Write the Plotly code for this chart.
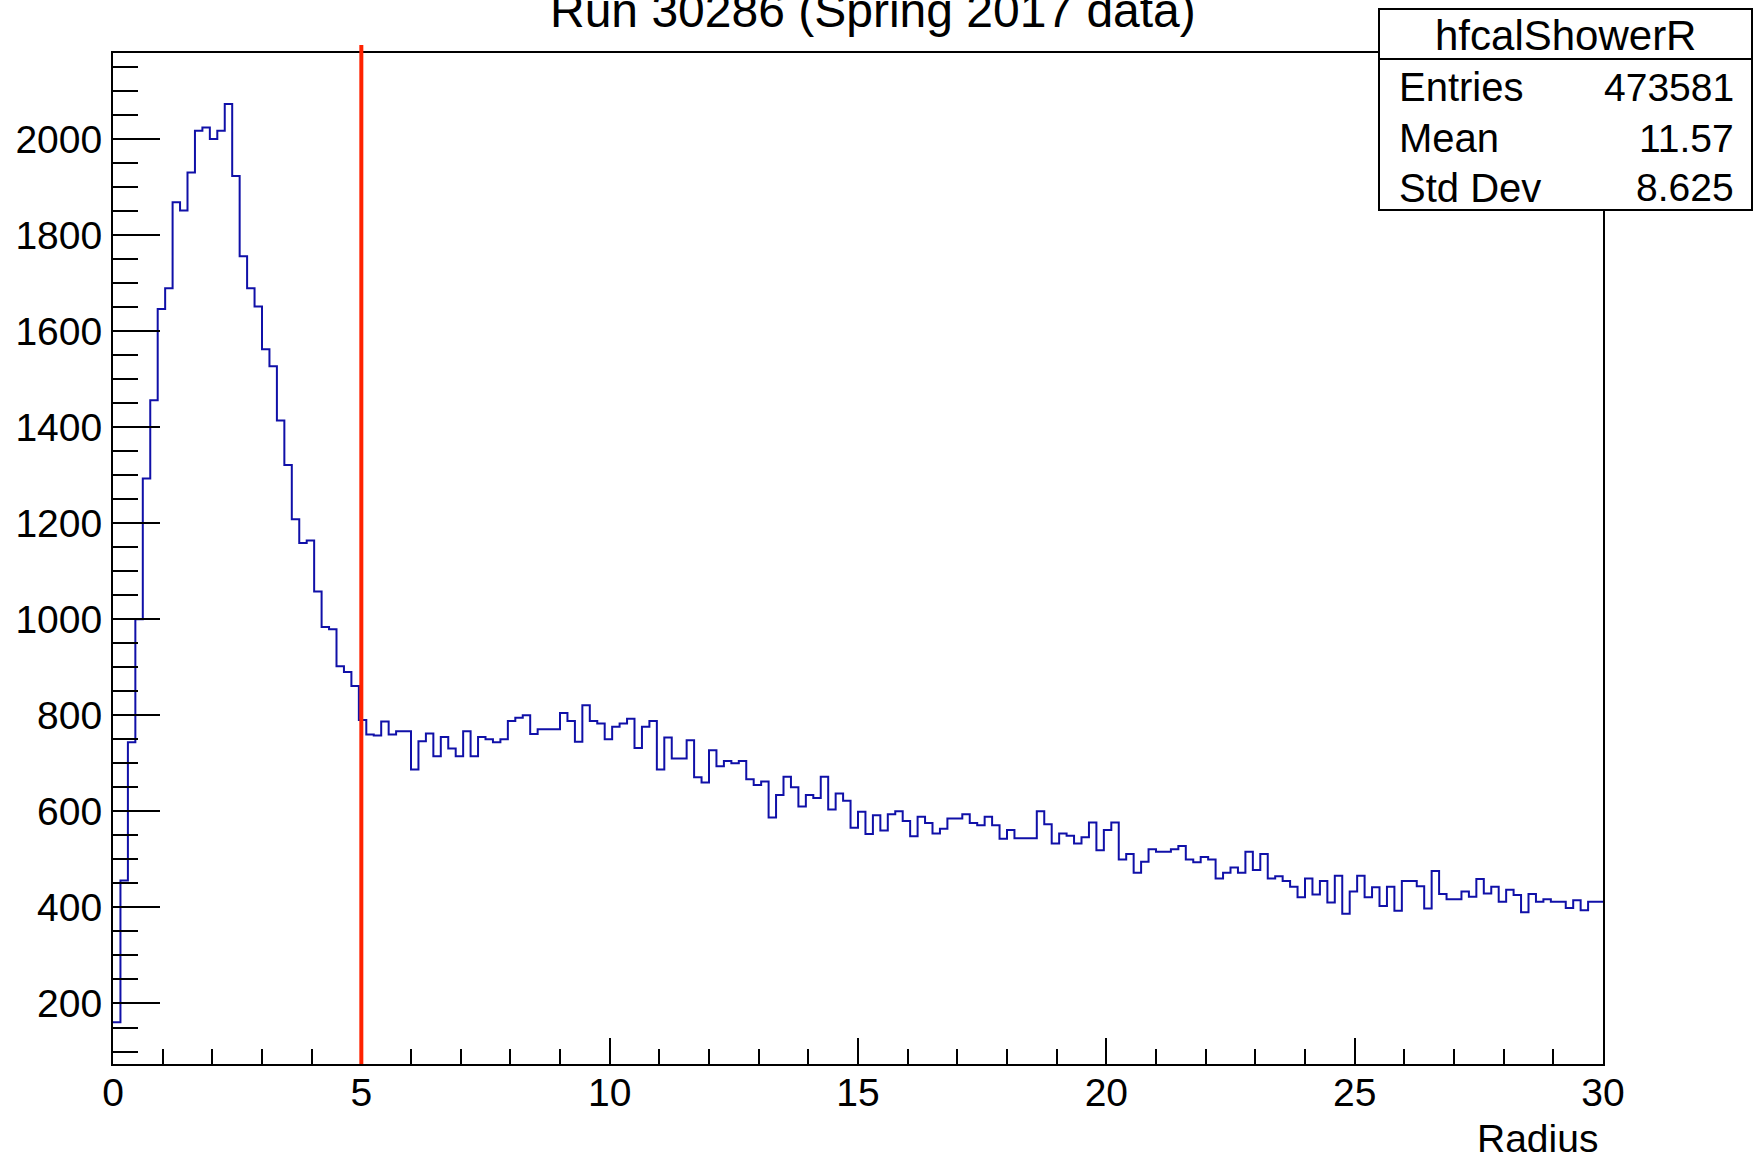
import numpy as np
import plotly.graph_objects as go

# ---------------- data ----------------
counts = [
    161, 456, 744, 1000, 1293, 1456, 1646, 1689, 1868, 1851,
    1930, 2017, 2024, 2000, 2017, 2073, 1923, 1756, 1689, 1651,
    1562, 1527, 1414, 1321, 1208, 1159, 1164, 1058, 984, 979,
    902, 890, 861, 790, 760, 758, 787, 760, 767, 767,
    687, 746, 762, 715, 755, 731, 715, 767, 715, 755,
    750, 744, 750, 788, 795, 800, 761, 771, 771, 771,
    805, 788, 745, 821, 788, 783, 750, 776, 783, 793,
    732, 776, 788, 687, 754, 710, 710, 748, 671, 660,
    727, 694, 705, 700, 705, 667, 655, 662, 587, 634,
    672, 650, 610, 634, 628, 672, 604, 637, 622, 566,
    599, 553, 592, 560, 594, 600, 580, 548, 589, 576,
    554, 564, 585, 585, 594, 576, 571, 589, 571, 543,
    561, 544, 544, 544, 600, 573, 533, 554, 549, 533,
    546, 577, 519, 561, 577, 500, 511, 472, 495, 521,
    516, 516, 521, 528, 500, 494, 505, 500, 460, 472,
    483, 472, 516, 478, 511, 460, 465, 455, 443, 421,
    460, 427, 455, 410, 466, 387, 433, 466, 421, 442,
    403, 443, 393, 455, 455, 444, 398, 476, 428, 417,
    417, 433, 422, 459, 429, 443, 412, 437, 426, 390,
    428, 412, 417, 412, 412, 399, 415, 394, 412, 412,
]
x_min, x_max = 0.0, 30.0
cut_radius = 5.0
y_range = [74, 2179]

title_text = "Run 30286 (Spring 2017 data)"
hist_name = "hfcalShowerR"
stat_labels = ["Entries", "Mean", "Std Dev"]
stat_values = ["473581", "11.57", "8.625"]
x_title = "Radius"

# ---------------- geometry ----------------
W, H = 1754, 1157
L, R, T, B = 113, 151, 53, 93
PW, PH = W - L - R, H - T - B


def pxx(x):
    return (x - L) / PW


def pyy(y):
    return (H - B - y) / PH


FONT = "Liberation Sans, Arial, Helvetica, sans-serif"
BLUE = "#1010a8"
RED = "#ff2200"

n_bins = len(counts)
edges = np.linspace(x_min, x_max, n_bins + 1)
xs = list(edges[:-1]) + [edges[-1]]
ys = list(counts) + [counts[-1]]

fig = go.Figure()
fig.add_trace(go.Scatter(
    x=xs, y=ys, mode="lines", line=dict(color=BLUE, width=2, shape="hv"),
    hoverinfo="skip", showlegend=False,
))

fig.update_layout(
    width=W, height=H,
    margin=dict(l=L, r=R, t=T, b=B, pad=0),
    paper_bgcolor="white", plot_bgcolor="white",
    font=dict(family=FONT, size=39, color="black"),
    showlegend=False,
)

fig.update_xaxes(
    range=[x_min, x_max], showgrid=False, zeroline=False,
    showline=True, linecolor="black", linewidth=2, mirror=True,
    ticks="inside", ticklen=26, tickwidth=2, tickcolor="black",
    dtick=5, tick0=0, ticklabelstandoff=-7,
    tickfont=dict(family=FONT, size=39, color="black"),
    minor=dict(ticks="inside", ticklen=15, tickwidth=2, tickcolor="black",
               dtick=1, showgrid=False),
)
fig.update_yaxes(
    range=y_range, showgrid=False, zeroline=False,
    showline=True, linecolor="black", linewidth=2, mirror=True,
    ticks="inside", ticklen=47, tickwidth=2, tickcolor="black",
    dtick=200, tick0=0, ticklabelstandoff=1,
    tickfont=dict(family=FONT, size=39, color="black"),
    minor=dict(ticks="inside", ticklen=25, tickwidth=2, tickcolor="black",
               dtick=50, showgrid=False),
)

# cut line
fig.add_shape(type="line", xref="x", yref="paper",
              x0=cut_radius, x1=cut_radius, y0=0, y1=pyy(45),
              line=dict(color=RED, width=4), layer="above")

# stats box
fig.add_shape(type="rect", xref="paper", yref="paper",
              x0=pxx(1379), x1=pxx(1752), y0=pyy(210), y1=pyy(9),
              line=dict(color="black", width=2), fillcolor="white", layer="above")
fig.add_shape(type="line", xref="paper", yref="paper",
              x0=pxx(1379), x1=pxx(1752), y0=pyy(59), y1=pyy(59),
              line=dict(color="black", width=2), layer="above")

ann = []
ann.append(dict(text=hist_name, x=pxx(1565), y=pyy(35), xanchor="center", yanchor="middle", size=42))
row_y = [87, 138, 188]
for lab, val, yy in zip(stat_labels, stat_values, row_y):
    ann.append(dict(text=lab, x=pxx(1397), y=pyy(yy), xanchor="left", yanchor="middle", size=40))
    ann.append(dict(text=val, x=pxx(1736), y=pyy(yy), xanchor="right", yanchor="middle", size=39))
ann.append(dict(text=x_title, x=pxx(1600), y=pyy(1138), xanchor="right", yanchor="middle", size=39))
for a in ann:
    sz = a.pop("size")
    a.update(xref="paper", yref="paper", showarrow=False,
             font=dict(family=FONT, size=sz, color="black"))
    fig.add_annotation(**a)

fig.add_annotation(text=title_text, xref="paper", yref="paper",
                   x=pxx(873), y=pyy(11), xanchor="center", yanchor="middle",
                   showarrow=False, font=dict(family=FONT, size=48, color="black"))

fig.write_html("out.html", config={"displayModeBar": False},
               post_script="document.body.style.margin='0';document.body.style.overflow='hidden';")
